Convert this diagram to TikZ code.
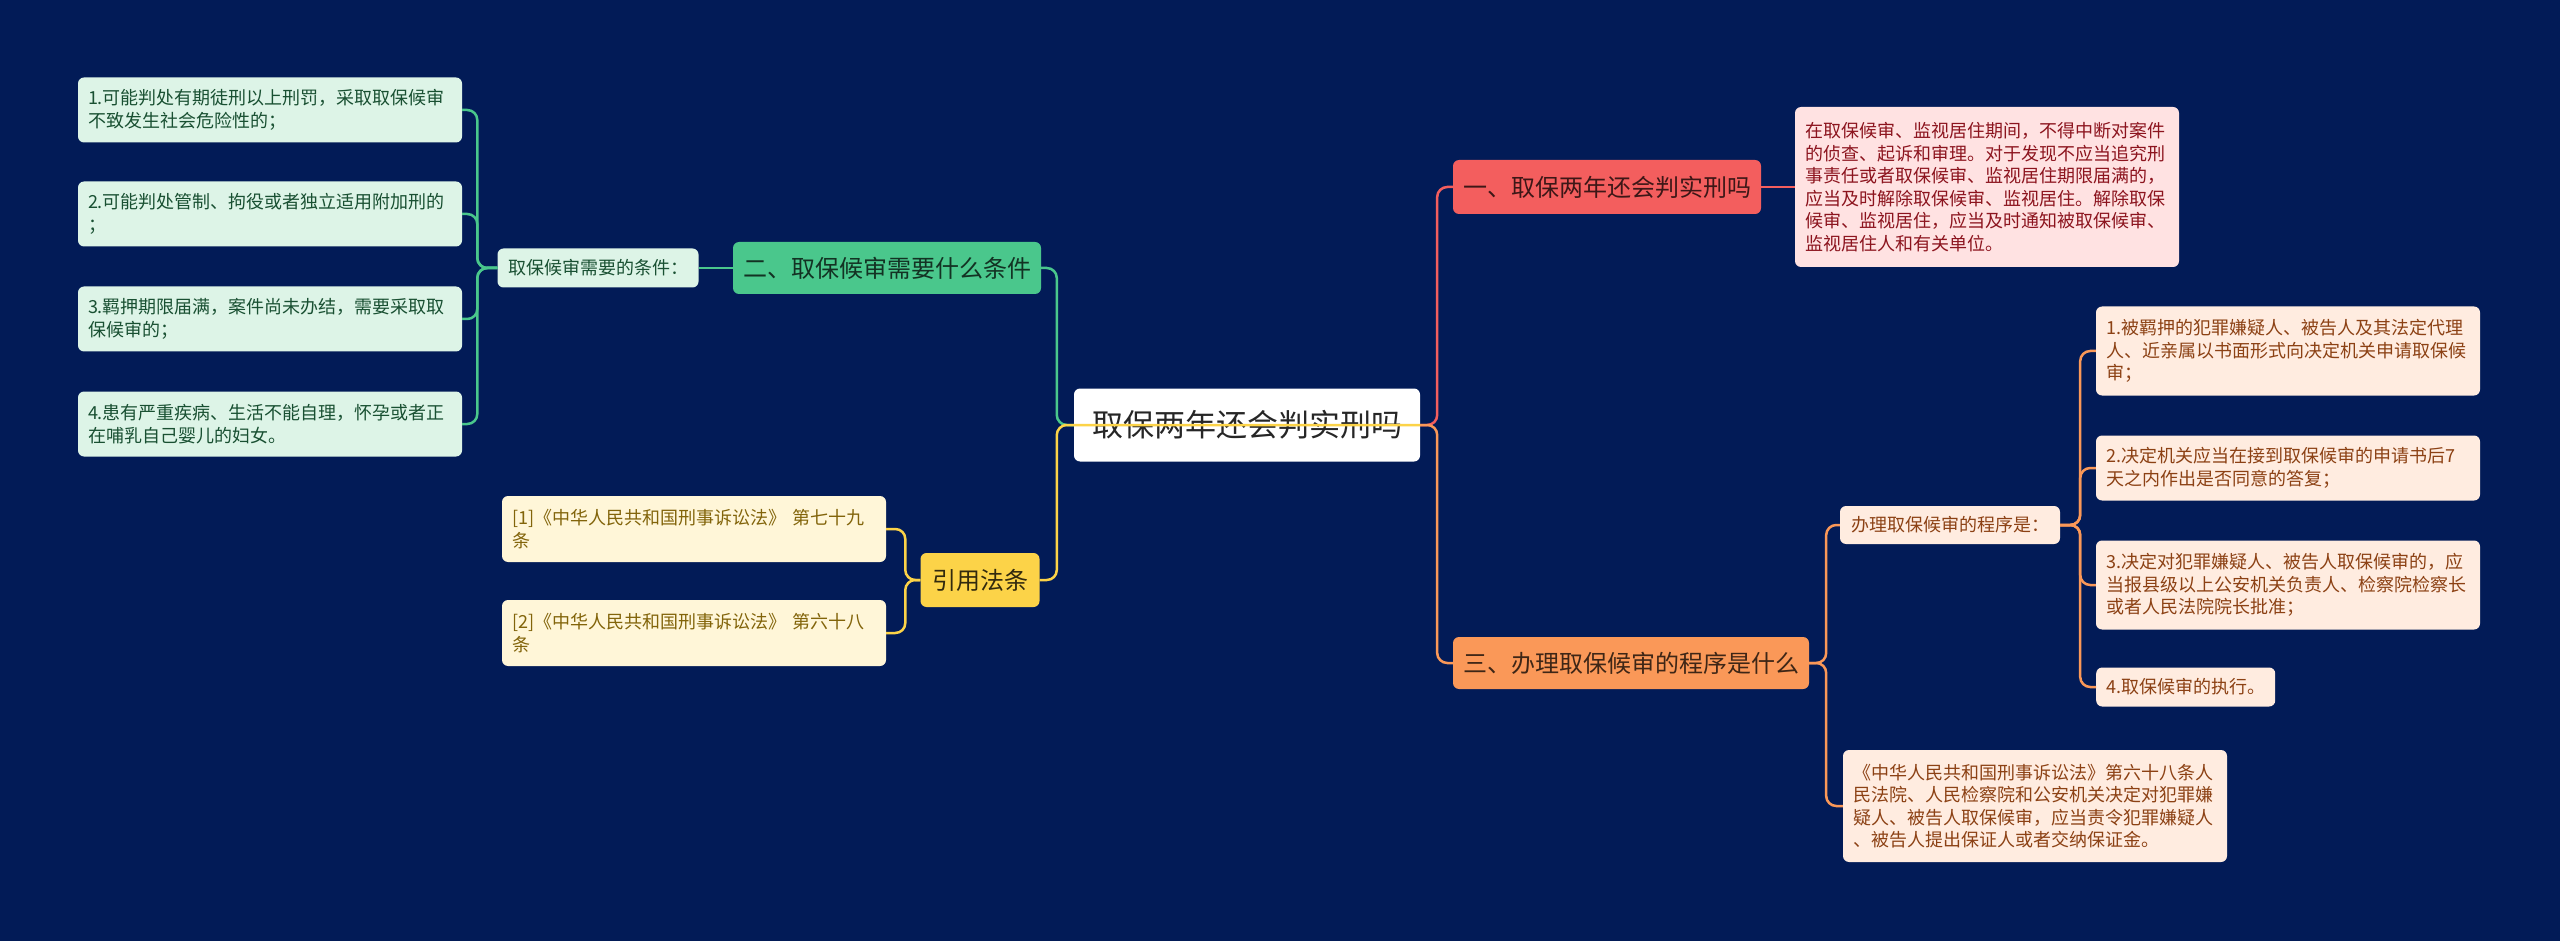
\documentclass[tikz,border=0pt]{standalone}
\usepackage{fontspec}
\setmainfont{Noto Sans CJK SC}

\definecolor{mbg}{RGB}{2, 27, 87}
\definecolor{mred}{RGB}{243, 94, 94}
\definecolor{lred}{RGB}{255, 226, 226}
\definecolor{tred}{RGB}{140, 20, 30}
\definecolor{mgre}{RGB}{74, 199, 140}
\definecolor{lgre}{RGB}{221, 244, 231}
\definecolor{tgre}{RGB}{25, 80, 50}
\definecolor{mora}{RGB}{250, 152, 88}
\definecolor{lora}{RGB}{255, 236, 224}
\definecolor{tora}{RGB}{140, 65, 20}
\definecolor{myel}{RGB}{252, 211, 72}
\definecolor{lyel}{RGB}{255, 246, 216}
\definecolor{tyel}{RGB}{130, 100, 10}

\begin{document}
\begin{tikzpicture}[x=1pt, y=-1pt,
		box/.style={rounded corners=6pt, inner xsep=10pt, inner ysep=4pt},
		head/.style={box, font=\fontsize{24pt}{28pt}\selectfont},
		leaf/.style={box, font=\fontsize{18pt}{22.5pt}\selectfont, align=left},
		wide/.style={leaf, text width=364pt},
		link/.style={line width=2.5pt, rounded corners=10pt},
	]

	\useasboundingbox[fill=mbg] (0,0) rectangle (2560,941);

	% --- Root ---
	\node[box, fill=white, text=black!85, font=\fontsize{31pt}{36pt}\selectfont,
		minimum width=346pt, minimum height=73pt] (root) at (1247,425) {取保两年还会判实刑吗};

	% --- Right side: branch one ---
	\node[head, fill=mred, text=mred!25!black, minimum width=305pt, minimum height=54pt] (one) at (1607,187) {一、取保两年还会判实刑吗};
	\node[wide, fill=lred, text=tred, minimum height=160pt] (onetxt) at (1987,187) {在取保候审、监视居住期间，不得中断对案件\\的侦查、起诉和审理。对于发现不应当追究刑\\事责任或者取保候审、监视居住期限届满的，\\应当及时解除取保候审、监视居住。解除取保\\候审、监视居住，应当及时通知被取保候审、\\监视居住人和有关单位。};

	% --- Right side: branch three ---
	\node[head, fill=mora, text=mora!25!black, minimum width=352pt, minimum height=52pt] (three) at (1631,663) {三、办理取保候审的程序是什么};
	\node[leaf, fill=lora, text=tora, minimum width=220pt, minimum height=38pt] (proc) at (1950,525) {办理取保候审的程序是：};
	\node[wide, fill=lora, text=tora, minimum height=89pt] (proc1) at (2288,351) {1.被羁押的犯罪嫌疑人、被告人及其法定代理\\人、近亲属以书面形式向决定机关申请取保候\\审；};
	\node[wide, fill=lora, text=tora, minimum height=65pt] (proc2) at (2288,468) {2.决定机关应当在接到取保候审的申请书后7\\天之内作出是否同意的答复；};
	\node[wide, fill=lora, text=tora, minimum height=89pt] (proc3) at (2288,585) {3.决定对犯罪嫌疑人、被告人取保候审的，应\\当报县级以上公安机关负责人、检察院检察长\\或者人民法院院长批准；};
	\node[leaf, fill=lora, text=tora, minimum width=178pt, minimum height=39pt, anchor=west] (proc4) at (2096,687) {4.取保候审的执行。};
	\node[wide, fill=lora, text=tora, minimum height=112pt] (law) at (2035,806) {《中华人民共和国刑事诉讼法》第六十八条人\\民法院、人民检察院和公安机关决定对犯罪嫌\\疑人、被告人取保候审，应当责令犯罪嫌疑人\\、被告人提出保证人或者交纳保证金。};

	% --- Left side: branch two ---
	\node[head, fill=mgre, text=mgre!25!black, minimum width=305pt, minimum height=52pt] (two) at (887,268) {二、取保候审需要什么条件};
	\node[leaf, fill=lgre, text=tgre, minimum width=201pt, minimum height=39pt] (cond) at (598,268) {取保候审需要的条件：};
	\node[wide, fill=lgre, text=tgre, minimum height=65pt] (cond1) at (270,110) {1.可能判处有期徒刑以上刑罚，采取取保候审\\不致发生社会危险性的；};
	\node[wide, fill=lgre, text=tgre, minimum height=65pt] (cond2) at (270,214) {2.可能判处管制、拘役或者独立适用附加刑的\\；};
	\node[wide, fill=lgre, text=tgre, minimum height=65pt] (cond3) at (270,319) {3.羁押期限届满，案件尚未办结，需要采取取\\保候审的；};
	\node[wide, fill=lgre, text=tgre, minimum height=65pt] (cond4) at (270,424) {4.患有严重疾病、生活不能自理，怀孕或者正\\在哺乳自己婴儿的妇女。};

	% --- Left side: cited articles ---
	\node[head, fill=myel, text=myel!20!black, minimum width=119pt, minimum height=54pt] (cite) at (980,580) {引用法条};
	\node[wide, fill=lyel, text=tyel, minimum height=66pt] (cite1) at (694,529) {[1]《中华人民共和国刑事诉讼法》 第七十九\\条};
	\node[wide, fill=lyel, text=tyel, minimum height=66pt] (cite2) at (694,633) {[2]《中华人民共和国刑事诉讼法》 第六十八\\条};

	% --- Connectors ---
	\draw[link, mred] (root.east) -- ++(17,0) |- (one.west);
	\draw[link, mred] (one.east) -- (onetxt.west);
	\draw[link, mora] (root.east) -- ++(17,0) |- (three.west);
	\foreach \n in {proc, law} {
			\draw[link, mora] (three.east) -- ++(17,0) |- (\n.west);
		}
	\foreach \n in {proc1, proc2, proc3, proc4} {
			\draw[link, mora] (proc.east) -- ++(20,0) |- (\n.west);
		}

	\draw[link, mgre] (root.west) -- ++(-17,0) |- (two.east);
	\draw[link, mgre] (two.west) -- (cond.east);
	\foreach \n in {cond1, cond2, cond3, cond4} {
			\draw[link, mgre] (cond.west) -- ++(-20,0) |- (\n.east);
		}

	\draw[link, myel] (root.east) -- (root.west) -- ++(-17,0) |- (cite.east);
	\foreach \n in {cite1, cite2} {
			\draw[link, myel] (cite.west) -- ++(-15,0) |- (\n.east);
		}

\end{tikzpicture}
\end{document}
